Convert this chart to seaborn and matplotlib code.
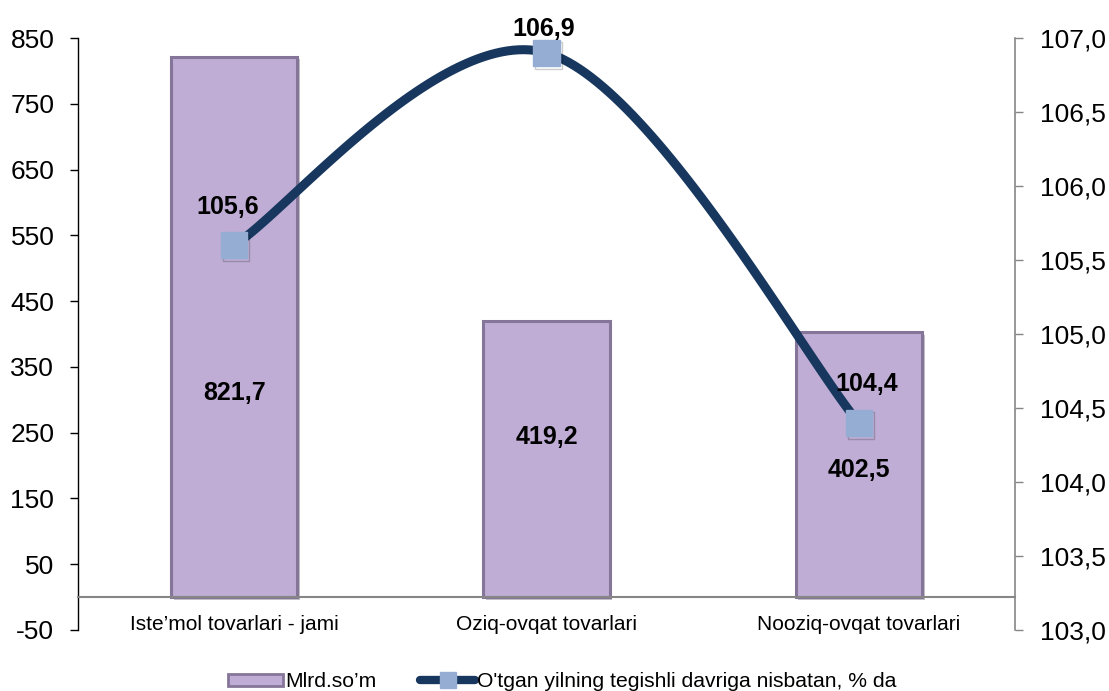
import numpy as np
import pandas as pd
import matplotlib
matplotlib.use('Agg')
import matplotlib.pyplot as plt
import matplotlib.patheffects as pe
from matplotlib.lines import Line2D
from matplotlib.patches import Patch
import seaborn as sns

# data
categories = ["Iste\u2019mol tovarlari - jami", "Oziq-ovqat tovarlari", "Nooziq-ovqat tovarlari"]
volume = [821.7, 419.2, 402.5]          # Mlrd.so'm
growth = [105.6, 106.9, 104.4]          # % to same period of last year
volume_labels = ["821,7", "419,2", "402,5"]
growth_labels = ["105,6", "106,9", "104,4"]
left_ticks = [-50, 50, 150, 250, 350, 450, 550, 650, 750, 850]
right_ticks = [103.0, 103.5, 104.0, 104.5, 105.0, 105.5, 106.0, 106.5, 107.0]

bar_name = "Mlrd.so\u2019m"
line_name = "O'tgan yilning tegishli davriga nisbatan, % da"

sns.set_style('white')
plt.rcParams['font.family'] = ['Liberation Sans', 'DejaVu Sans']
plt.rcParams['text.color'] = 'black'
plt.rcParams['xtick.color'] = 'black'
plt.rcParams['ytick.color'] = 'black'
plt.rcParams['xtick.labelcolor'] = 'black'
plt.rcParams['ytick.labelcolor'] = 'black'

bar_color = '#BFADD5'
bar_edge = '#857598'
line_color = '#17375E'
marker_color = '#95ADD3'
grey = '#868686'

df = pd.DataFrame({'cat': categories, 'val': volume})

fig = plt.figure(figsize=(11.09, 6.91), dpi=100)
ax = fig.add_axes([0.0703, 0.0883, 0.8449, 0.8567])

sns.barplot(data=df, x='cat', y='val', color=bar_color, width=0.405,
            edgecolor=bar_edge, linewidth=2.2, saturation=1, ax=ax)
for p in ax.patches:
    p.set_path_effects([pe.SimplePatchShadow(offset=(2, -2), alpha=0.3), pe.Normal()])

ax.set_xlim(-0.5, 2.5)
ax.set_ylim(-50, 850)
ax.set_yticks(left_ticks)
ax.set_yticklabels([str(t) for t in left_ticks], fontsize=19)
ax.set_xlabel('')
ax.set_ylabel('')

for s in ['top', 'right']:
    ax.spines[s].set_visible(False)
ax.spines['left'].set_color('black')
ax.spines['left'].set_linewidth(1)
ax.spines['bottom'].set_position(('data', 0))
ax.spines['bottom'].set_color(grey)
ax.spines['bottom'].set_linewidth(1.5)
ax.tick_params(axis='y', direction='out', length=6, width=1, color='black', pad=11)
ax.set_xticks(range(len(categories)))
ax.set_xticklabels(categories, fontsize=15)
ax.set_xticks([0.5, 1.5], minor=True)
ax.tick_params(axis='x', which='major', length=0, pad=13)
ax.tick_params(axis='x', which='minor', length=5, width=1, color=grey, direction='out')

# value labels inside the bars
label_y = [311, 243, 193]
for i, t in enumerate(volume_labels):
    ax.text(i, label_y[i], t, ha='center', va='center', fontsize=18, fontweight='bold')

# secondary axis with smoothed line
ax2 = ax.twinx()
ax2.set_ylim(103.0, 107.0)
ax2.set_yticks(right_ticks)
ax2.set_yticklabels([f"{t:.1f}".replace('.', ',') for t in right_ticks], fontsize=19)
for s in ['top', 'left', 'bottom']:
    ax2.spines[s].set_visible(False)
ax2.spines['right'].set_color(grey)
ax2.spines['right'].set_linewidth(1.2)
ax2.tick_params(axis='y', direction='out', length=6, width=1, color=grey, pad=12)

# Excel style bezier smoothing through the points
xs = np.arange(len(growth), dtype=float)
ys = np.array(growth)
pts = np.column_stack([xs, ys])
curve = []
t = np.linspace(0, 1, 60)
for k in range(len(pts) - 1):
    p0 = pts[max(k - 1, 0)]
    p1 = pts[k]
    p2 = pts[k + 1]
    p3 = pts[min(k + 2, len(pts) - 1)]
    c1 = p1 + (p2 - p0) / 6
    c2 = p2 - (p3 - p1) / 6
    seg = ((1 - t) ** 3)[:, None] * p1 + (3 * (1 - t) ** 2 * t)[:, None] * c1 \
        + (3 * (1 - t) * t ** 2)[:, None] * c2 + (t ** 3)[:, None] * p2
    curve.append(seg)
curve = np.vstack(curve)
ax2.plot(curve[:, 0], curve[:, 1], color=line_color, linewidth=6.5, solid_capstyle='round', zorder=3)
ax2.plot(xs, ys, linestyle='none', marker='s', markersize=19, markerfacecolor=marker_color,
         markeredgecolor=marker_color, zorder=4,
         path_effects=[pe.SimpleLineShadow(offset=(1.5, -2), alpha=0.2), pe.Normal()])

label_off = [(-0.02, 0.26), (-0.01, 0.16), (0.025, 0.26)]
for i, t_ in enumerate(growth_labels):
    ax2.text(xs[i] + label_off[i][0], ys[i] + label_off[i][1], t_, ha='center', va='center',
             fontsize=18, fontweight='bold', zorder=5)

handles = [
    Patch(facecolor=bar_color, edgecolor=bar_edge, linewidth=2),
    Line2D([0], [0], color=line_color, linewidth=6, marker='s', markersize=12,
           markerfacecolor=marker_color, markeredgecolor=marker_color),
]
fig.legend(handles, [bar_name, line_name], loc='lower center', bbox_to_anchor=(0.507, -0.028),
           ncol=2, frameon=False, fontsize=15.2, handlelength=2.6, handleheight=0.55,
           handletextpad=0.1, columnspacing=2.1)

fig.savefig('out.png', dpi=100)
